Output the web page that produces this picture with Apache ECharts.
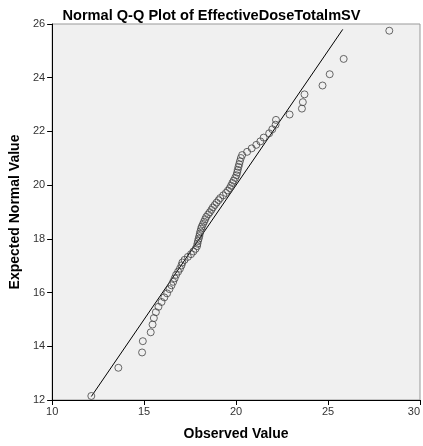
<!DOCTYPE html>
<html>
<head>
<meta charset="utf-8">
<script src="https://cdn.jsdelivr.net/npm/echarts@6/dist/echarts.min.js"></script>
<style>html,body{margin:0;padding:0;background:#fff;}#c{width:423px;height:446px;}</style>
</head>
<body>
<div id="c"></div>
<script>
var observed = [12.13,13.6,14.89,14.93,15.36,15.46,15.53,15.64,15.78,15.95,
16.1,16.25,16.38,16.49,16.58,16.66,16.74,16.85,16.95,17.03,
17.08,17.2,17.38,17.55,17.68,17.8,17.88,17.9,17.93,17.97,
18.0,18.03,18.06,18.1,18.14,18.2,18.26,18.32,18.38,18.48,
18.57,18.66,18.74,18.84,18.94,19.05,19.14,19.3,19.45,19.56,
19.66,19.73,19.8,19.87,19.95,20.02,20.06,20.09,20.13,20.17,
20.21,20.26,20.33,20.6,20.85,21.1,21.32,21.5,21.8,21.97,
22.15,22.17,22.91,23.58,23.63,23.72,24.7,25.09,25.85,28.33];
var expected = [12.15,13.20,13.77,14.19,14.52,14.81,15.05,15.27,15.47,15.65,
15.82,15.97,16.13,16.27,16.40,16.53,16.66,16.78,16.89,17.01,
17.12,17.22,17.33,17.43,17.53,17.63,17.73,17.82,17.92,18.01,
18.10,18.19,18.28,18.38,18.46,18.55,18.64,18.73,18.82,18.91,
18.99,19.08,19.17,19.26,19.35,19.44,19.52,19.62,19.71,19.80,
19.89,19.98,20.08,20.17,20.27,20.37,20.47,20.57,20.68,20.78,
20.89,21.01,21.12,21.24,21.37,21.50,21.63,21.77,21.93,22.08,
22.25,22.43,22.63,22.85,23.09,23.38,23.71,24.13,24.70,25.75];
var refLineX = [12.13, 25.8];
var refLineY = [12.13, 25.8];

var pts = observed.map(function(v,i){return [v, expected[i]];});
var linePts = refLineX.map(function(v,i){return [v, refLineY[i]];});

var chart = echarts.init(document.getElementById('c'));
chart.setOption({
  animation: false,
  backgroundColor: '#ffffff',
  title: {
    text: 'Normal Q-Q Plot of EffectiveDoseTotalmSV',
    left: 'center', top: 3,
    textStyle: {fontFamily: 'Liberation Sans, Arial', fontWeight: 'bold', fontSize: 14.6, color: '#000'}
  },
  grid: {
    left: 48, top: 24, right: 0, bottom: 44,
    show: true, backgroundColor: '#f0f0f0', borderColor: '#999', borderWidth: 1
  },
  xAxis: {
    type: 'value', min: 10, max: 30, interval: 5,
    name: 'Observed Value', nameLocation: 'middle', nameGap: 27,
    nameTextStyle: {fontFamily: 'Liberation Sans, Arial', fontWeight: 'bold', fontSize: 14, color: '#000'},
    axisLine: {show: true, onZero: false, lineStyle: {color: '#000', width: 1}},
    axisTick: {show: true, length: 5, lineStyle: {color: '#000'}},
    axisLabel: {fontFamily: 'Liberation Sans, Arial', fontSize: 11, color: '#333', margin: 6, alignMaxLabel: 'right'},
    splitLine: {show: false}
  },
  yAxis: {
    type: 'value', min: 12, max: 26, interval: 2,
    name: 'Expected Normal Value', nameLocation: 'middle', nameGap: 26,
    nameTextStyle: {fontFamily: 'Liberation Sans, Arial', fontWeight: 'bold', fontSize: 14, color: '#000'},
    axisLine: {show: true, onZero: false, lineStyle: {color: '#000', width: 1}},
    axisTick: {show: true, length: 5, lineStyle: {color: '#000'}},
    axisLabel: {fontFamily: 'Liberation Sans, Arial', fontSize: 11, color: '#333', margin: 7},
    splitLine: {show: false}
  },
  series: [
    {
      type: 'line', data: linePts, showSymbol: false, symbol: 'none',
      lineStyle: {color: '#000', width: 1}, z: 2, silent: true
    },
    {
      type: 'scatter', data: pts, symbol: 'circle', symbolSize: 7,
      itemStyle: {color: 'rgba(0,0,0,0)', borderColor: '#444', borderWidth: 1}, z: 3
    }
  ]
});
</script>
</body>
</html>
